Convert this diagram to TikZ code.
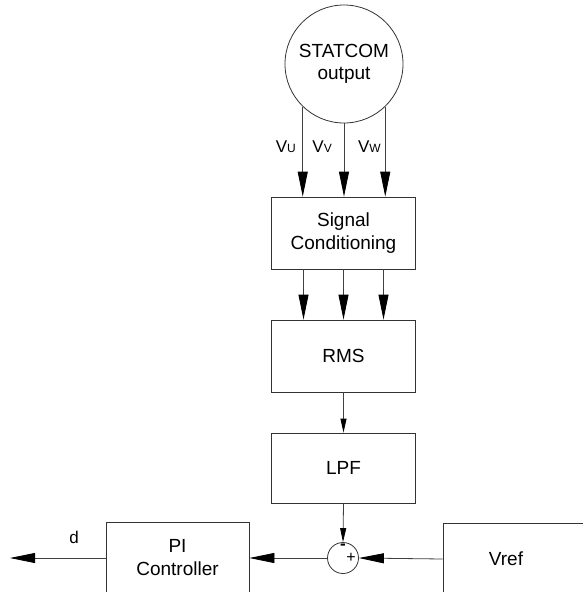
\documentclass[tikz,border=0pt]{standalone}
\usepackage{fontspec}
\setmainfont{Liberation Sans}
\usetikzlibrary{arrows.meta}
\tikzset{
  blk/.style={draw=black!80, line width=0.8pt, rectangle, minimum width=144pt, minimum height=72pt, inner sep=0pt, align=center, font=\fontsize{19}{23}\selectfont},
  conn/.style={draw=black!75, line width=0.8pt},
  bigarr/.style={conn, -{Triangle[length=25pt,width=10pt,color=black]}},
  smallarr/.style={conn, -{Triangle[length=14pt,width=6pt,color=black]}},
  lbl/.style={font=\fontsize{17}{17}\selectfont, inner sep=0pt},
}
\newcommand{\subcap}[1]{{\fontsize{12}{12}\selectfont #1}}
\begin{document}
\begin{tikzpicture}[x=1pt,y=-1pt]
\clip (0,0) rectangle (583,592);
\fill[white] (0,0) rectangle (583,592);
% nodes
\node[draw=black!80, line width=0.8pt, circle, minimum size=118pt, inner sep=0pt, align=center, font=\fontsize{19}{22}\selectfont] (statcom) at (344,64) {STATCOM\\output};
\node[blk] (sc) at (343.5,233) {Signal\\Conditioning};
\node[blk] (rms) at (343.5,356) {RMS};
\node[blk, minimum height=70pt] (lpf) at (343.5,468) {LPF};
\node[draw=black!80, line width=0.8pt, circle, minimum size=31pt, inner sep=0pt] (sum) at (343,558) {};
\node[blk, minimum width=143pt] (pi) at (177.5,558) {PI\\Controller};
\node[blk] (vref) at (515,559) {};
\node[font=\fontsize{19}{23}\selectfont, inner sep=0pt] (vreft) at (506,559) {Vref};
\node[font=\fontsize{17}{17}\selectfont\bfseries, inner sep=0pt] (minus) at (343,547) {-};
\node[font=\fontsize{16}{16}\selectfont, inner sep=0pt] (plus) at (351,558) {+};
\coordinate (dout) at (10,558);
% connectors from STATCOM
\draw[bigarr] (statcom.226) -- (statcom.226 |- sc.north);
\draw[bigarr] (statcom.south) -- (statcom.south |- sc.north);
\draw[bigarr] (statcom.314) -- (statcom.314 |- sc.north);
% labels
\node[lbl, anchor=base east] (vu) at (296,152) {V\subcap{U}};
\node[lbl, anchor=base east] (vv) at (332,152) {V\subcap{V}};
\node[lbl, anchor=base east] (vw) at (381,152) {V\subcap{W}};
% SC -> RMS
\draw[bigarr] ([xshift=-40pt]sc.south) -- ([xshift=-40pt]rms.north);
\draw[bigarr] (sc.south) -- (rms.north);
\draw[bigarr] ([xshift=40pt]sc.south) -- ([xshift=40pt]rms.north);
% RMS -> LPF -> sum
\draw[smallarr] (rms.south) -- (lpf.north);
\draw[smallarr] (lpf.south) -- (sum.north);
% Vref -> sum -> PI -> out
\draw[bigarr] (vref.west) -- (sum.east);
\draw[bigarr] (sum.west) -- (pi.east);
\draw[bigarr] (pi.west) -- (dout);
\node[lbl, anchor=base] (d) at (74,543) {d};
\end{tikzpicture}
\end{document}
